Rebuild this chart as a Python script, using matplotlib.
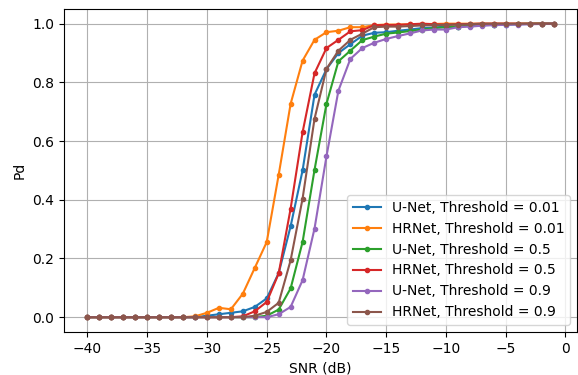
import numpy as np
import matplotlib.pyplot as plt

snr = np.arange(-40, 0)

unet_001 = [0]*10 + [0.005, 0.01, 0.015, 0.02, 0.035, 0.064, 0.15, 0.31, 0.5, 0.758,
                     0.845, 0.9, 0.93, 0.959, 0.969, 0.971, 0.976, 0.98, 0.985, 0.987,
                     0.99, 0.99, 0.993, 0.995, 0.996, 0.997, 0.998, 0.999, 1.0, 1.0]
hrnet_001 = [0]*9 + [0.003, 0.015, 0.032, 0.027, 0.08, 0.168, 0.256, 0.485, 0.727, 0.874, 0.945,
                     0.971, 0.976, 0.988, 0.988, 0.995, 0.997, 0.997, 0.998, 0.999, 0.999,
                     1.0, 1.0, 1.0, 1.0, 1.0, 1.0, 1.0, 1.0, 1.0, 1.0]
unet_05 = [0]*15 + [0.005, 0.026, 0.098, 0.256, 0.502,
                    0.727, 0.872, 0.908, 0.944, 0.956, 0.966, 0.97, 0.975, 0.98, 0.985,
                    0.988, 0.99, 0.993, 0.995, 0.997, 0.998, 0.999, 1.0, 1.0, 1.0]
hrnet_05 = [0]*13 + [0.003, 0.02, 0.052, 0.149, 0.37, 0.63, 0.831,
                     0.917, 0.945, 0.974, 0.978, 0.995, 0.995, 0.996, 0.998, 1.0, 0.998,
                     0.997, 0.998, 0.999, 1.0, 1.0, 1.0, 1.0, 1.0, 1.0, 1.0]
unet_09 = [0]*16 + [0.01, 0.035, 0.126, 0.302,
                    0.548, 0.772, 0.88, 0.917, 0.935, 0.948, 0.958, 0.967, 0.977, 0.98,
                    0.98, 0.988, 0.99, 0.993, 0.995, 0.996, 0.997, 0.998, 0.999, 1.0]
hrnet_09 = [0]*14 + [0.005, 0.018, 0.049, 0.194, 0.404, 0.676,
                     0.846, 0.908, 0.945, 0.966, 0.988, 0.99, 0.99, 0.992, 0.994, 0.995,
                     0.996, 0.997, 0.998, 1.0, 1.0, 1.0, 1.0, 1.0, 1.0, 1.0]

labels = ['U-Net, Threshold = 0.01', 'HRNet, Threshold = 0.01',
          'U-Net, Threshold = 0.5', 'HRNet, Threshold = 0.5',
          'U-Net, Threshold = 0.9', 'HRNet, Threshold = 0.9']
series = [unet_001, hrnet_001, unet_05, hrnet_05, unet_09, hrnet_09]

fig = plt.figure(figsize=(5.78, 3.75), dpi=100)
ax = fig.add_axes([0.111, 0.115, 0.887, 0.861])
for ys, lab in zip(series, labels):
    ax.plot(snr, ys, '.-', label=lab)
ax.set_xlabel('SNR (dB)')
ax.set_ylabel('Pd')
ax.grid(True)
ax.legend(loc='lower right')
fig.savefig('out.png', dpi=100)
